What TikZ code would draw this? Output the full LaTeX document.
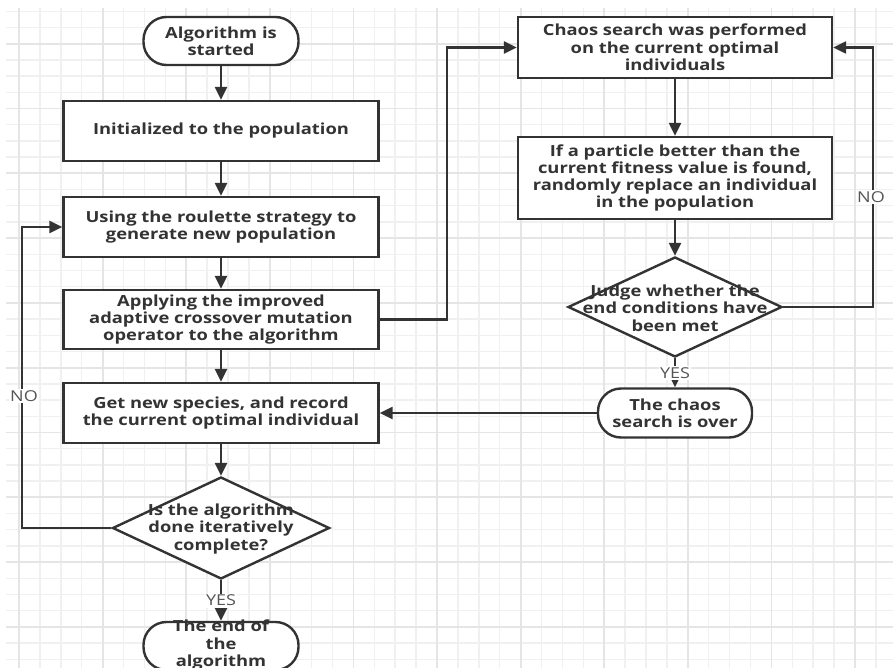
\documentclass[tikz,border=0pt]{standalone}
\usepackage{fontspec}
\setmainfont{Open Sans}[FakeStretch=1.2]
\usetikzlibrary{arrows.meta,shapes.geometric}
\definecolor{ink}{HTML}{333333}
\definecolor{lbl}{HTML}{555555}
\definecolor{gminor}{HTML}{F0F0F0}
\definecolor{gmajor}{HTML}{E5E5E5}
\begin{document}
\begin{tikzpicture}[x=1pt,y=-1pt,
  proc/.style={rectangle,draw=ink,line width=2.4pt,fill=white,inner sep=0pt},
  term/.style={proc,rounded corners=23pt},
  dec/.style={diamond,draw=ink,line width=2.4pt,fill=white,inner sep=0pt},
  txt/.style={text=ink,font=\bfseries\fontsize{15.3}{17.3}\selectfont,align=center,inner sep=0pt},
  lab/.style={text=lbl,fill=white,font=\fontsize{15}{17}\selectfont,inner sep=1.5pt},
  arr/.style={draw=ink,line width=2.4pt,-{Triangle[length=13pt,width=12pt]}}]
\useasboundingbox (0,0) rectangle (893,668);
\fill[white] (0,0) rectangle (893,668);
% grid
\foreach \k in {0,...,41} \draw[gminor,line width=1.5pt] ({19+20.9*\k},8) -- ({19+20.9*\k},668);
\foreach \k in {0,...,40} \draw[gminor,line width=1.5pt] (6,{11.3+16.2*\k}) -- (893,{11.3+16.2*\k});
\foreach \k in {0,4,...,40} \draw[gmajor,line width=1.8pt] ({19+20.9*\k},8) -- ({19+20.9*\k},668);
\foreach \k in {2,6,...,38} \draw[gmajor,line width=1.8pt] (6,{11.3+16.2*\k}) -- (893,{11.3+16.2*\k});
% left column
\node[term,minimum width=155pt,minimum height=48pt] (start) at (221,41) {};
\node[txt] (tstart) at (start) {Algorithm is\\started};
\node[proc,minimum width=315pt,minimum height=60pt] (b1) at (221,131) {};
\node[txt] (tb1) at (b1) {Initialized to the population};
\node[proc,minimum width=315pt,minimum height=60pt] (b2) at (221,227) {};
\node[txt] (tb2) at (b2) {Using the roulette strategy to\\generate new population};
\node[proc,minimum width=315pt,minimum height=59pt] (b3) at (221,319.5) {};
\node[txt] (tb3) at (b3) {Applying the improved\\adaptive crossover mutation\\operator to the algorithm};
\node[proc,minimum width=315pt,minimum height=60pt] (b4) at (221,413) {};
\node[txt] (tb4) at (b4) {Get new species, and record\\the current optimal individual};
\node[dec,minimum width=217pt,minimum height=102pt] (d1) at (221,528) {};
\node[txt] (td1) at (221,529) {Is the algorithm\\done iteratively\\complete?};
\node[term,minimum width=155pt,minimum height=48pt] (end) at (221,646) {};
\node[txt] (tend) at (221,645) {The end of\\the\\algorithm};
% right column
\node[proc,minimum width=314pt,minimum height=61pt] (c1) at (675,47.5) {};
\node[txt] (tc1) at (c1) {Chaos search was performed\\on the current optimal\\individuals};
\node[proc,minimum width=314pt,minimum height=82pt] (c2) at (675,178) {};
\node[txt] (tc2) at (c2) {If a particle better than the\\current fitness value is found,\\randomly replace an individual\\in the population};
\node[dec,minimum width=214pt,minimum height=100pt] (d2) at (675,307) {};
\node[txt] (td2) at (675,308) {Judge whether the\\end conditions have\\been met};
\node[term,minimum width=154pt,minimum height=49pt] (over) at (675,413) {};
\node[txt] (tover) at (over) {The chaos\\search is over};
% connectors
\draw[arr] (start) -- (b1);
\draw[arr] (b1) -- (b2);
\draw[arr] (b2) -- (b3);
\draw[arr] (b3) -- (b4);
\draw[arr] (b4) -- (d1);
\draw[arr] (d1) -- node[lab] (yes1) {YES} (end);
\coordinate (nl) at (22,528);
\draw[arr] (d1.west) -- (nl) |- (b2.west);
\node[lab] (no1) at (24,396) {NO};
\coordinate (rt) at (447,319.5);
\draw[arr] (b3.east) -- (rt) |- (c1.west);
\draw[arr] (c1) -- (c2);
\draw[arr] (c2) -- (d2);
\draw[arr] (d2) -- node[lab] (yes2) {YES} (over);
\draw[arr] (over) -- (b4);
\coordinate (nr) at (873,307);
\draw[arr] (d2.east) -- (nr) |- (c1.east);
\node[lab] (no2) at (871,197) {NO};
\end{tikzpicture}
\end{document}
